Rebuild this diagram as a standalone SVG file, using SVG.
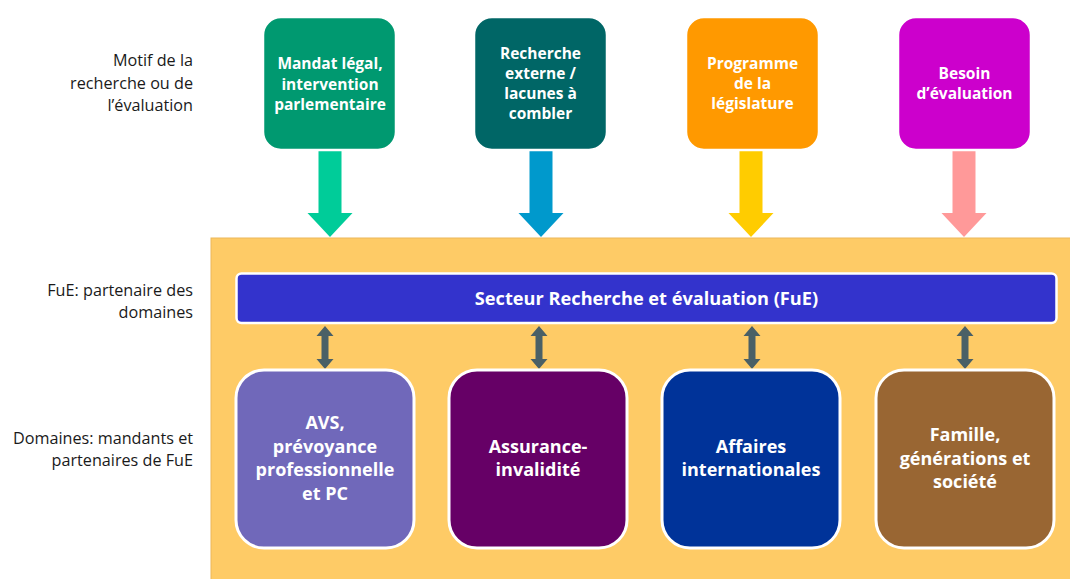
<svg xmlns="http://www.w3.org/2000/svg" width="1070" height="579" viewBox="0 0 1070 579">
<style>
.lbl{font-family:"Open Sans","Liberation Sans",sans-serif;font-size:16.2px;fill:#1a1a1a;text-anchor:end}
.top{font-family:"Open Sans","Liberation Sans",sans-serif;font-size:15.5px;font-weight:bold;fill:#ffffff;text-anchor:middle}
.bot{font-family:"Open Sans","Liberation Sans",sans-serif;font-size:18px;font-weight:bold;fill:#ffffff;text-anchor:middle}
.bar{font-family:"Open Sans","Liberation Sans",sans-serif;font-size:18.2px;font-weight:bold;fill:#ffffff;text-anchor:middle}
.tb{stroke:#ffffff;stroke-width:2.5}
.bb{stroke:#ffffff;stroke-width:3}
.dbl{fill:#4a6066}
</style>
<defs>
<path id="down" d="M -11.5,150 H 11.5 V 213 H 22.5 L 0,237 L -22.5,213 H -11.5 Z"/>
<path id="dbl" d="M 0,326 L 8.5,336 L 3.5,336 L 3.5,359 L 8.5,359 L 0,369 L -8.5,359 L -3.5,359 L -3.5,336 L -8.5,336 Z"/>
</defs>
<rect width="1070" height="579" fill="#ffffff"/>
<g id="labels">
<text class="lbl" x="193" y="66">Motif de la</text>
<text class="lbl" x="193" y="89">recherche ou de</text>
<text class="lbl" x="193" y="111">l’évaluation</text>
<text class="lbl" x="193" y="296">FuE: partenaire des</text>
<text class="lbl" x="193" y="318">domaines</text>
<text class="lbl" x="193" y="444">Domaines: mandants et</text>
<text class="lbl" x="193" y="466">partenaires de FuE</text>
</g>
<g id="background">
<rect x="211" y="238" width="870" height="350" fill="#fecb66" stroke="#ebb85a" stroke-width="1"/>
</g>
<g id="connectors">
<use href="#down" x="330" fill="#00cc99"/>
<use href="#down" x="541" fill="#0099cc"/>
<use href="#down" x="751" fill="#ffcc00"/>
<use href="#down" x="964" fill="#ff9999"/>
<use href="#dbl" x="325" class="dbl"/>
<use href="#dbl" x="539" class="dbl"/>
<use href="#dbl" x="752" class="dbl"/>
<use href="#dbl" x="965" class="dbl"/>
</g>
<g id="motif1">
<rect class="tb" x="263" y="17" width="133" height="133" rx="18" fill="#009970"/>
<text class="top" x="330" y="69">Mandat légal,</text>
<text class="top" x="330" y="89.5">intervention</text>
<text class="top" x="330" y="110">parlementaire</text>
</g>
<g id="motif2">
<rect class="tb" x="474" y="17" width="133" height="133" rx="18" fill="#006666"/>
<text class="top" x="540.5" y="59">Recherche</text>
<text class="top" x="540.5" y="79">externe /</text>
<text class="top" x="540.5" y="99">lacunes à</text>
<text class="top" x="540.5" y="119">combler</text>
</g>
<g id="motif3">
<rect class="tb" x="686" y="17" width="133" height="133" rx="18" fill="#ff9900"/>
<text class="top" x="752.5" y="69">Programme</text>
<text class="top" x="752.5" y="89">de la</text>
<text class="top" x="752.5" y="109">législature</text>
</g>
<g id="motif4">
<rect class="tb" x="898" y="17" width="133" height="133" rx="18" fill="#cc00cc"/>
<text class="top" x="964.5" y="79">Besoin</text>
<text class="top" x="964.5" y="99">d’évaluation</text>
</g>
<g id="fue">
<rect x="236.5" y="273.5" width="820" height="49.5" rx="5" fill="#3333cc" stroke="#ffffff" stroke-width="2.5"/>
<text class="bar" x="646.5" y="304.5">Secteur Recherche et évaluation (FuE)</text>
</g>
<g id="avs">
<rect class="bb" x="236" y="370" width="178" height="178" rx="28" fill="#7068ba"/>
<text class="bot" x="325" y="429">AVS,</text>
<text class="bot" x="325" y="453">prévoyance</text>
<text class="bot" x="325" y="476">professionnelle</text>
<text class="bot" x="325" y="500">et PC</text>
</g>
<g id="ai">
<rect class="bb" x="449" y="370" width="178" height="178" rx="28" fill="#660066"/>
<text class="bot" x="538" y="453">Assurance-</text>
<text class="bot" x="538" y="476">invalidité</text>
</g>
<g id="affaires">
<rect class="bb" x="662" y="370" width="178" height="178" rx="28" fill="#003399"/>
<text class="bot" x="751" y="453">Affaires</text>
<text class="bot" x="751" y="476">internationales</text>
</g>
<g id="famille">
<rect class="bb" x="876" y="370" width="178" height="178" rx="28" fill="#996633"/>
<text class="bot" x="965" y="441">Famille,</text>
<text class="bot" x="965" y="465">générations et</text>
<text class="bot" x="965" y="488">société</text>
</g>
</svg>
